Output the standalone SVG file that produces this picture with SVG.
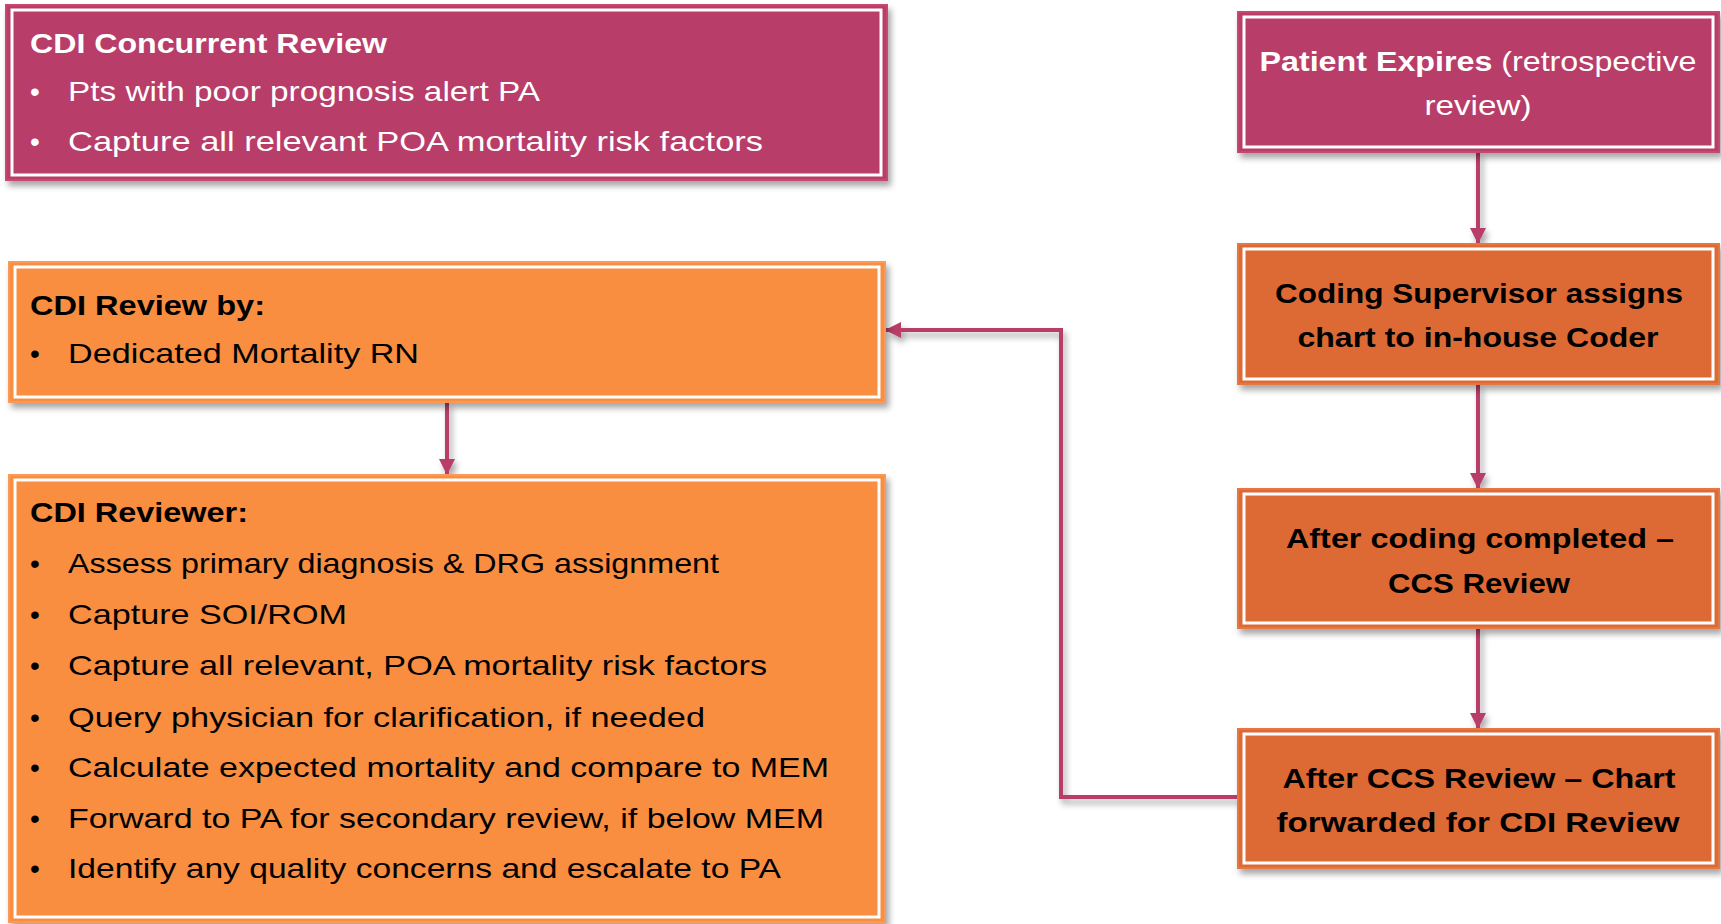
<svg xmlns="http://www.w3.org/2000/svg" width="1721" height="924" viewBox="0 0 1721 924">
<style>
.t{font-family:"Liberation Sans",Arial,sans-serif;font-size:28px}
.b{font-weight:bold}
.w{fill:#ffffff}
.k{fill:#000000}
.inner{fill:none;stroke:#ffffff;stroke-width:3}
.mag{fill:#B83C67;stroke:#C8466F;stroke-width:2}
.orl{fill:#F98D3F;stroke:#F79A5A;stroke-width:2}
.ord{fill:#DD6B36;stroke:#E5773F;stroke-width:2}
.con{fill:none;stroke:#B83C67;stroke-width:4}
</style>
<defs>
<filter id="sh" x="-5%" y="-10%" width="115%" height="130%">
<feDropShadow dx="3" dy="5" stdDeviation="3" flood-color="#000" flood-opacity="0.35"/>
</filter>
<marker id="ah" viewBox="0 0 16 16" refX="15" refY="8" markerWidth="16" markerHeight="16" markerUnits="userSpaceOnUse" orient="auto">
<path d="M0,0 L16,8 L0,16 z" fill="#B83C67"/>
</marker>
</defs>
<rect width="1721" height="924" fill="#ffffff"/>

<g id="connectors" filter="url(#sh)">
<line class="con" x1="1478" y1="152" x2="1478" y2="243" marker-end="url(#ah)"/>
<line class="con" x1="1478" y1="384" x2="1478" y2="488" marker-end="url(#ah)"/>
<line class="con" x1="1478" y1="627" x2="1478" y2="728" marker-end="url(#ah)"/>
<line class="con" x1="447" y1="402" x2="447" y2="474" marker-end="url(#ah)"/>
<polyline class="con" points="1237,797 1061,797 1061,330 886,330" marker-end="url(#ah)"/>
</g>

<g id="cdi-concurrent">
<rect class="mag" x="6" y="5" width="881" height="175" filter="url(#sh)"/>
<rect class="inner" x="12" y="10" width="869" height="165"/>
<text class="t b w" x="30" y="53" font-size="30" textLength="357" lengthAdjust="spacingAndGlyphs">CDI Concurrent Review</text>
<text class="t w" x="30" y="101">•</text>
<text class="t w" x="68" y="101" textLength="472" lengthAdjust="spacingAndGlyphs">Pts with poor prognosis alert PA</text>
<text class="t w" x="30" y="151">•</text>
<text class="t w" x="68" y="151" textLength="695" lengthAdjust="spacingAndGlyphs">Capture all relevant POA mortality risk factors</text>
</g>

<g id="patient-expires">
<rect class="mag" x="1238" y="12" width="481" height="140" filter="url(#sh)"/>
<rect class="inner" x="1244" y="17" width="469" height="130"/>
<text class="t w" x="1478" y="71" font-size="30" text-anchor="middle" textLength="437" lengthAdjust="spacingAndGlyphs"><tspan font-weight="bold">Patient Expires</tspan> (retrospective</text>
<text class="t w" x="1478" y="115" font-size="30" text-anchor="middle" textLength="107" lengthAdjust="spacingAndGlyphs">review)</text>
</g>

<g id="coding-supervisor">
<rect class="ord" x="1238" y="244" width="481" height="140" filter="url(#sh)"/>
<rect class="inner" x="1244" y="249" width="469" height="130"/>
<text class="t b k" x="1479" y="303" font-size="30" text-anchor="middle" textLength="408" lengthAdjust="spacingAndGlyphs">Coding Supervisor assigns</text>
<text class="t b k" x="1478" y="347" font-size="30" text-anchor="middle" textLength="361" lengthAdjust="spacingAndGlyphs">chart to in-house Coder</text>
</g>

<g id="after-coding">
<rect class="ord" x="1238" y="489" width="481" height="139" filter="url(#sh)"/>
<rect class="inner" x="1244" y="494" width="469" height="129"/>
<text class="t b k" x="1480" y="548" font-size="30" text-anchor="middle" textLength="388" lengthAdjust="spacingAndGlyphs">After coding completed –</text>
<text class="t b k" x="1479" y="593" font-size="30" text-anchor="middle" textLength="182" lengthAdjust="spacingAndGlyphs">CCS Review</text>
</g>

<g id="after-ccs">
<rect class="ord" x="1238" y="729" width="481" height="139" filter="url(#sh)"/>
<rect class="inner" x="1244" y="734" width="469" height="129"/>
<text class="t b k" x="1479" y="788" font-size="30" text-anchor="middle" textLength="393" lengthAdjust="spacingAndGlyphs">After CCS Review – Chart</text>
<text class="t b k" x="1478" y="832" font-size="30" text-anchor="middle" textLength="403" lengthAdjust="spacingAndGlyphs">forwarded for CDI Review</text>
</g>

<g id="cdi-review-by">
<rect class="orl" x="9" y="262" width="876" height="140" filter="url(#sh)"/>
<rect class="inner" x="15" y="267" width="864" height="130"/>
<text class="t b k" x="30" y="315" font-size="30" textLength="235" lengthAdjust="spacingAndGlyphs">CDI Review by:</text>
<text class="t k" x="30" y="363">•</text>
<text class="t k" x="68" y="363" textLength="351" lengthAdjust="spacingAndGlyphs">Dedicated Mortality RN</text>
</g>

<g id="cdi-reviewer">
<rect class="orl" x="9" y="475" width="876" height="447" filter="url(#sh)"/>
<rect class="inner" x="15" y="480" width="864" height="437"/>
<text class="t b k" x="30" y="522" font-size="30" textLength="218" lengthAdjust="spacingAndGlyphs">CDI Reviewer:</text>
<text class="t k" x="30" y="573">•</text>
<text class="t k" x="68" y="573" textLength="651" lengthAdjust="spacingAndGlyphs">Assess primary diagnosis &amp; DRG assignment</text>
<text class="t k" x="30" y="624">•</text>
<text class="t k" x="68" y="624" textLength="279" lengthAdjust="spacingAndGlyphs">Capture SOI/ROM</text>
<text class="t k" x="30" y="675">•</text>
<text class="t k" x="68" y="675" textLength="699" lengthAdjust="spacingAndGlyphs">Capture all relevant, POA mortality risk factors</text>
<text class="t k" x="30" y="727">•</text>
<text class="t k" x="68" y="727" textLength="637" lengthAdjust="spacingAndGlyphs">Query physician for clarification, if needed</text>
<text class="t k" x="30" y="777">•</text>
<text class="t k" x="68" y="777" textLength="761" lengthAdjust="spacingAndGlyphs">Calculate expected mortality and compare to MEM</text>
<text class="t k" x="30" y="828">•</text>
<text class="t k" x="68" y="828" textLength="756" lengthAdjust="spacingAndGlyphs">Forward to PA for secondary review, if below MEM</text>
<text class="t k" x="30" y="878">•</text>
<text class="t k" x="68" y="878" textLength="713" lengthAdjust="spacingAndGlyphs">Identify any quality concerns and escalate to PA</text>
</g>
</svg>
